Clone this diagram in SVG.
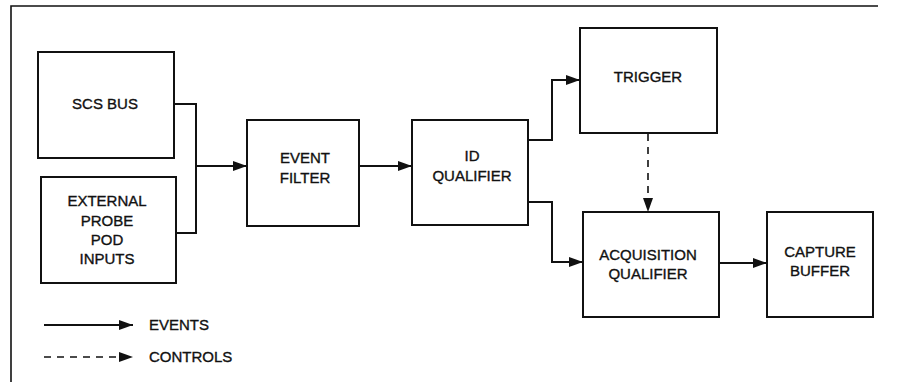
<svg xmlns="http://www.w3.org/2000/svg" width="897" height="382" viewBox="0 0 897 382">
<defs>
<style>
.box{fill:#fff;stroke:#111;stroke-width:2}
.t{font-family:"Liberation Sans",Arial,sans-serif;font-size:15px;fill:#111;stroke:#111;stroke-width:0.35;text-anchor:middle}
.lt{font-family:"Liberation Sans",Arial,sans-serif;font-size:15px;fill:#111;stroke:#111;stroke-width:0.35}
.c{fill:none;stroke:#111;stroke-width:2}
.d{fill:none;stroke:#111;stroke-width:1.6;stroke-dasharray:7,6}
</style>
<marker id="ah" markerWidth="14" markerHeight="10" refX="14" refY="5" orient="auto" markerUnits="userSpaceOnUse">
<path d="M0,0 L14,5 L0,10 Z" fill="#111"/>
</marker>
</defs>
<rect width="897" height="382" fill="#fff"/>
<g id="frame"><path d="M11,382 V6 H878" fill="none" stroke="#111" stroke-width="1.6"/></g>
<g id="scs"><rect class="box" x="38" y="52" width="136" height="106"/><text class="t" x="105" y="109">SCS BUS</text></g>
<g id="ext"><rect class="box" x="41" y="177" width="135" height="106"/>
<text class="t" x="107" y="206">EXTERNAL</text><text class="t" x="107" y="226">PROBE</text><text class="t" x="107" y="245">POD</text><text class="t" x="107" y="264">INPUTS</text></g>
<g id="filter"><rect class="box" x="247" y="120" width="112" height="106"/><text class="t" x="305" y="163">EVENT</text><text class="t" x="305" y="183">FILTER</text></g>
<g id="idq"><rect class="box" x="412" y="120" width="116" height="105"/><text class="t" x="472" y="161">ID</text><text class="t" x="472" y="181">QUALIFIER</text></g>
<g id="trigger"><rect class="box" x="580" y="28" width="137" height="105"/><text class="t" x="648" y="82">TRIGGER</text></g>
<g id="acq"><rect class="box" x="583" y="212" width="136" height="105"/><text class="t" x="648" y="260">ACQUISITION</text><text class="t" x="648" y="279">QUALIFIER</text></g>
<g id="capture"><rect class="box" x="767" y="212" width="106" height="105"/><text class="t" x="820" y="257">CAPTURE</text><text class="t" x="820" y="276">BUFFER</text></g>
<g id="connectors">
<path class="c" d="M174,104 H196 V233 H176"/>
<path class="c" d="M196,166 H247" marker-end="url(#ah)"/>
<path class="c" d="M359,166 H412" marker-end="url(#ah)"/>
<path class="c" d="M528,140 H552 V80 H580" marker-end="url(#ah)"/>
<path class="c" d="M528,202 H552 V262 H583" marker-end="url(#ah)"/>
<path class="c" d="M719,263 H767" marker-end="url(#ah)"/>
<path class="d" d="M648,134 V212" marker-end="url(#ah)"/>
</g>
<g id="legend">
<path class="c" d="M44,325 H133" marker-end="url(#ah)"/>
<text class="lt" x="149" y="330">EVENTS</text>
<path class="d" d="M44,357 H133" stroke-dasharray="5,9" marker-end="url(#ah)"/>
<text class="lt" x="149" y="362">CONTROLS</text>
</g>
</svg>
